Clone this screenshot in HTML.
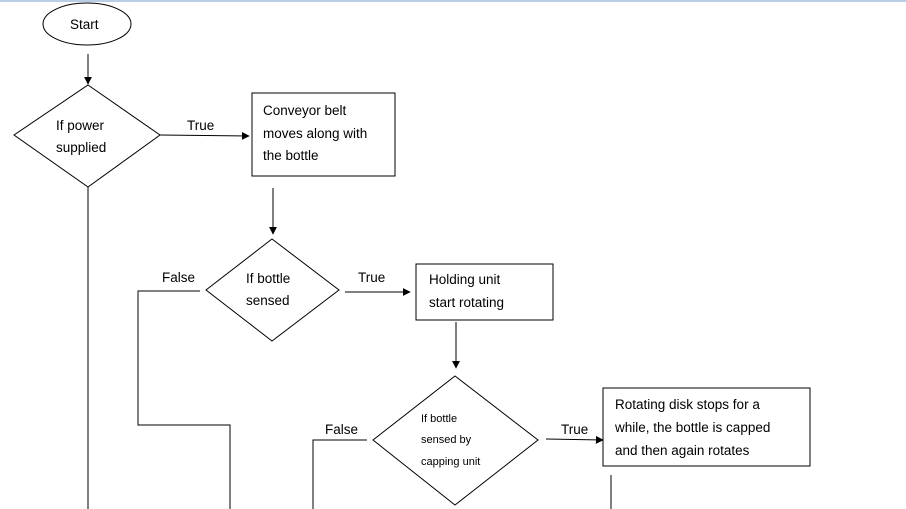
<!DOCTYPE html>
<html><head><style>
html,body{margin:0;padding:0;background:#fff;width:906px;height:509px;overflow:hidden}
svg{display:block}
text{font-family:"Liberation Sans",sans-serif;font-size:13.5px;fill:#000}
</style></head><body>
<svg width="906" height="509" viewBox="0 0 906 509">
<defs><marker id="a" viewBox="0 0 10 10" refX="9" refY="5" markerWidth="8" markerHeight="8" orient="auto" markerUnits="userSpaceOnUse"><path d="M0,0L10,5L0,10z" fill="#000"/></marker></defs>
<rect x="0" y="0" width="906" height="2" fill="#b9cde5"/>
<g stroke="#000" stroke-width="1" fill="none">
<ellipse cx="87" cy="24" rx="44" ry="21" fill="#fff"/>
<line x1="88" y1="54" x2="88" y2="84" marker-end="url(#a)"/>
<polygon points="88,85 160,135 88,187 14,135" fill="#fff"/>
<line x1="160" y1="135" x2="249" y2="136" marker-end="url(#a)"/>
<rect x="252" y="93" width="143" height="83"/>
<line x1="273" y1="188" x2="273" y2="234" marker-end="url(#a)"/>
<polygon points="272,239 339,290 272,341 206,290"/>
<polyline points="200,291 138,291 138,425 230,425 230,509"/>
<line x1="88" y1="187" x2="88" y2="509"/>
<line x1="345" y1="292" x2="410" y2="292" marker-end="url(#a)"/>
<rect x="416" y="264" width="137" height="56"/>
<line x1="456" y1="322" x2="456" y2="368" marker-end="url(#a)"/>
<polygon points="455,376 538,440 455,505 373,440"/>
<polyline points="367,440 313,440 313,509"/>
<line x1="546" y1="439" x2="603" y2="440" marker-end="url(#a)"/>
<rect x="603" y="388" width="207" height="78"/>
<line x1="611" y1="475" x2="611" y2="509"/>
</g>
<text x="70" y="29">Start</text>
<text x="56" y="130">If power</text>
<text x="56" y="152">supplied</text>
<text x="187" y="130">True</text>
<text x="263" y="115">Conveyor belt</text>
<text x="263" y="138">moves along with</text>
<text x="263" y="160">the bottle</text>
<text x="162" y="282">False</text>
<text x="246" y="283">If bottle</text>
<text x="246" y="305">sensed</text>
<text x="358" y="282">True</text>
<text x="429" y="284">Holding unit</text>
<text x="429" y="307">start rotating</text>
<text x="421" y="422" style="font-size:11px">If bottle</text>
<text x="421" y="443" style="font-size:11px">sensed by</text>
<text x="421" y="465" style="font-size:11px">capping unit</text>
<text x="325" y="434">False</text>
<text x="561" y="434">True</text>
<text x="615" y="409">Rotating disk stops for a</text>
<text x="615" y="432">while, the bottle is capped</text>
<text x="615" y="455">and then again rotates</text>
</svg>
</body></html>
